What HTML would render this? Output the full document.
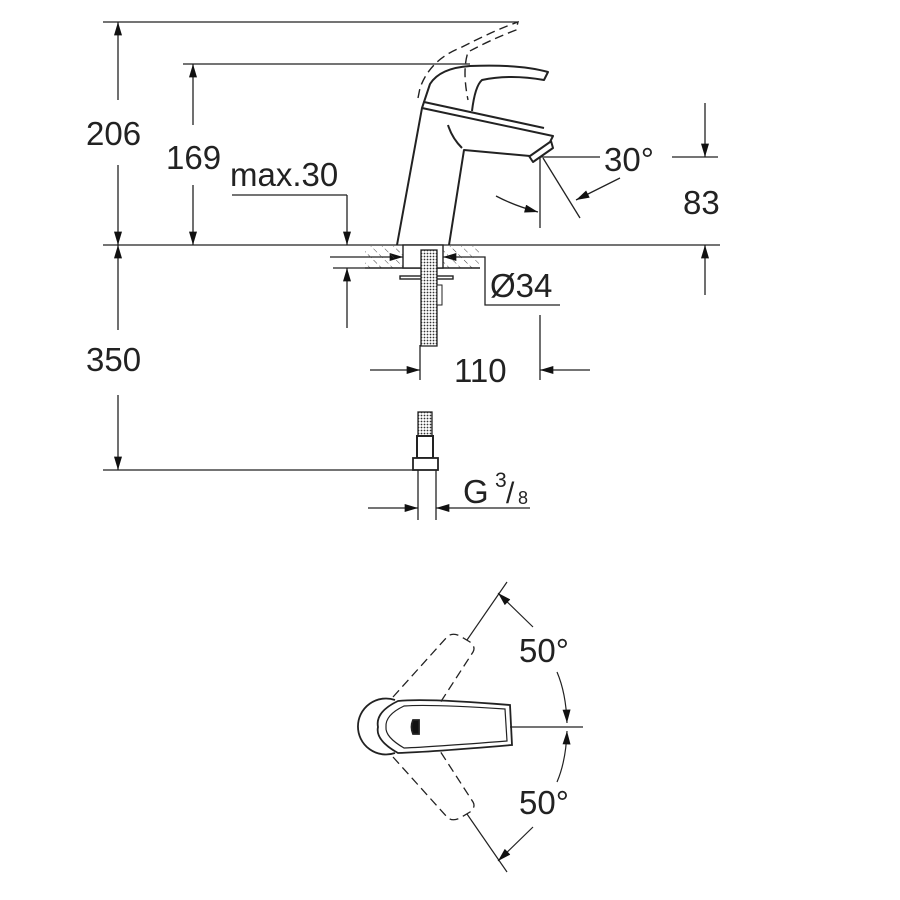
<!DOCTYPE html>
<html><head><meta charset="utf-8"><style>
html,body{margin:0;padding:0;background:#fff}
svg{display:block}
text{font-family:"Liberation Sans",sans-serif;fill:#222}
</style></head><body>
<svg width="900" height="900" viewBox="0 0 900 900" xmlns="http://www.w3.org/2000/svg">
<defs>
<marker id="a" viewBox="0 0 10 6" refX="10" refY="3" markerWidth="18" markerHeight="8" markerUnits="userSpaceOnUse" orient="auto-start-reverse"><path d="M0,0L10,3L0,6z" fill="#111"/></marker>
<pattern id="h" width="8" height="8" patternUnits="userSpaceOnUse" patternTransform="rotate(-45)"><line x1="0" y1="0" x2="0" y2="8" stroke="#444" stroke-width="1" stroke-dasharray="5 3"/></pattern>
<pattern id="m" width="3" height="3" patternUnits="userSpaceOnUse"><rect width="3" height="3" fill="#fff"/><circle cx="1.5" cy="1.5" r="0.9" fill="#333"/></pattern>
</defs>
<g stroke="#222" stroke-width="1.3" fill="none">
<line x1="103" y1="22" x2="518" y2="22"/>
<line x1="183" y1="64" x2="470" y2="64"/>
<line x1="103" y1="245" x2="720" y2="245"/>
<line x1="103" y1="470" x2="415" y2="470"/>
<line x1="118" y1="100" x2="118" y2="22" marker-end="url(#a)"/>
<line x1="118" y1="165" x2="118" y2="245" marker-end="url(#a)"/>
<line x1="193" y1="125" x2="193" y2="64" marker-end="url(#a)"/>
<line x1="193" y1="185" x2="193" y2="245" marker-end="url(#a)"/>
<line x1="118" y1="330" x2="118" y2="245" marker-end="url(#a)"/>
<line x1="118" y1="395" x2="118" y2="470" marker-end="url(#a)"/>
<line x1="232" y1="195" x2="347" y2="195"/>
<line x1="347" y1="195" x2="347" y2="245" marker-end="url(#a)"/>
<line x1="333" y1="268" x2="365" y2="268"/>
<line x1="347" y1="328" x2="347" y2="268" marker-end="url(#a)"/>
<line x1="370" y1="370" x2="420" y2="370" marker-end="url(#a)"/>
<line x1="590" y1="370" x2="540" y2="370" marker-end="url(#a)"/>
<line x1="540" y1="315" x2="540" y2="380"/>
<line x1="420" y1="345" x2="420" y2="380"/>
<line x1="330" y1="257" x2="403" y2="257" marker-end="url(#a)"/>
<line x1="475" y1="257" x2="443" y2="257" marker-end="url(#a)"/>
<polyline points="475,257 485,257 485,305 560,305"/>
<line x1="540" y1="157" x2="600" y2="157"/>
<line x1="672" y1="157" x2="718" y2="157"/>
<line x1="540" y1="157" x2="540" y2="228"/>
<line x1="705" y1="103" x2="705" y2="157" marker-end="url(#a)"/>
<line x1="705" y1="295" x2="705" y2="245" marker-end="url(#a)"/>
<line x1="543" y1="158" x2="580" y2="218"/>
<line x1="620" y1="178" x2="576" y2="200" marker-end="url(#a)"/>
<path d="M496,196 Q515,206 538,212" marker-end="url(#a)"/>
<line x1="368" y1="508" x2="418" y2="508" marker-end="url(#a)"/>
<line x1="530" y1="508" x2="436" y2="508" marker-end="url(#a)"/>
</g>
<rect x="365" y="246" width="38" height="22" fill="url(#h)"/>
<rect x="443" y="246" width="37" height="22" fill="url(#h)"/>
<g stroke="#222" stroke-width="1.4" fill="none">
<line x1="365" y1="268" x2="480" y2="268"/>
<rect x="403" y="245" width="40" height="23" fill="#fff"/>
<rect x="400" y="276" width="53" height="3" fill="#fff"/>
</g>
<rect x="421" y="250" width="16" height="96" fill="url(#m)" stroke="#222" stroke-width="1.3"/>
<rect x="437" y="285" width="5" height="20" fill="#fff" stroke="#222"/>
<rect x="418" y="412" width="14" height="26" fill="url(#m)" stroke="#222" stroke-width="1.3"/>
<rect x="417" y="436" width="16" height="22" fill="#fff" stroke="#222" stroke-width="2"/>
<rect x="413" y="458" width="25" height="12" fill="#fff" stroke="#222" stroke-width="1.8"/>
<line x1="418" y1="470" x2="418" y2="520" stroke="#222" stroke-width="1.3"/>
<line x1="436" y1="470" x2="436" y2="520" stroke="#222" stroke-width="1.3"/>
<g stroke="#222" stroke-width="2" fill="none" stroke-linejoin="round">
<path d="M397,245 L422,108 L553,136 L550,142 L530,156 L464,150 L449,245"/>
<path d="M422,108 L424,102 L544,128"/>
<path d="M448,125 Q452,138 462,148"/>
<path d="M529,156 L533,162 L553,148 L551,141"/>
<path d="M424,102 L430,84 Q440,68 470,66 Q520,64 548,72 L544,80 Q510,74 482,80 Q475,86 472,111"/>
</g>
<g stroke="#222" stroke-width="1.4" fill="none" stroke-dasharray="9 5">
<path d="M418,98 L420,88 Q430,60 460,48 Q495,30 518,22 L516,30 Q490,40 468,52 Q462,70 468,100"/>
</g>
<g stroke="#222" stroke-width="1.8" fill="none">
<path d="M395,700 A28,28 0 1 0 395,753"/>
<path d="M398,701 Q425,698 510,705 L512,745 Q430,752 398,753 Q375,740 378,727 Q375,712 398,701 Z"/>
<path d="M404,706 Q430,704 505,709 L507,741 Q430,747 404,748 Q385,737 386,727 Q385,715 404,706 Z" stroke-width="1.2"/>
<path d="M413,720 L419,720 L419,734 L413,734 Q410,727 413,720Z" fill="#111"/>
</g>
<g stroke="#222" stroke-width="1.3" fill="none" stroke-dasharray="9 5">
<path d="M393,697 L447,637 Q452,632 460,636 L470,642 Q476,647 473,652 L440,703"/>
<path d="M393,757 L447,817 Q452,822 460,818 L470,812 Q476,807 473,802 L440,751"/>
</g>
<g stroke="#222" stroke-width="1.2" fill="none">
<line x1="467" y1="640" x2="507" y2="582"/>
<line x1="467" y1="814" x2="507" y2="872"/>
<line x1="510" y1="727" x2="583" y2="727"/>
<path d="M533,627 L498,593" marker-end="url(#a)"/>
<path d="M557,672 Q566,693 567,723" marker-end="url(#a)"/>
<path d="M557,782 Q566,761 567,731" marker-end="url(#a)"/>
<path d="M533,827 L498,861" marker-end="url(#a)"/>
</g>
<g font-size="33">
<text x="86" y="145">206</text>
<text x="166" y="169">169</text>
<text x="230" y="186">max.30</text>
<text x="490" y="297">Ø34</text>
<text x="454" y="382">110</text>
<text x="86" y="371">350</text>
<text x="604" y="171">30°</text>
<text x="683" y="214">83</text>
<text x="463" y="503">G</text>
<text x="519" y="662">50°</text>
<text x="519" y="814">50°</text>
</g>
<text x="495" y="487" font-size="21">3</text>
<text x="506" y="503" font-size="30">/</text>
<text x="518" y="504" font-size="18">8</text>
</svg>
</body></html>
